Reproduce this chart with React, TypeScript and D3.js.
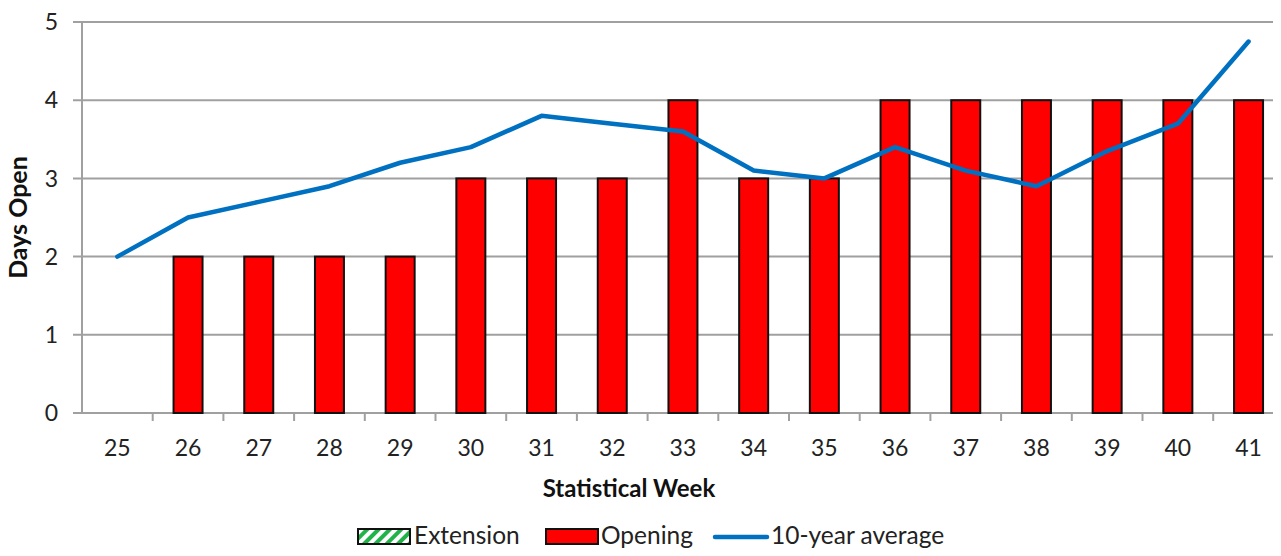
import React, { useEffect, useRef } from 'react';
import * as d3 from 'd3';

const weeks = ['25', '26', '27', '28', '29', '30', '31', '32', '33', '34', '35', '36', '37', '38', '39', '40', '41'];
const opening = [0, 2, 2, 2, 2, 3, 3, 3, 4, 3, 3, 4, 4, 4, 4, 4, 4];
const extension = [0, 0, 0, 0, 0, 0, 0, 0, 0, 0, 0, 0, 0, 0, 0, 0, 0];
const tenYearAvg = [2.0, 2.5, 2.7, 2.9, 3.2, 3.4, 3.8, 3.7, 3.6, 3.1, 3.0, 3.4, 3.1, 2.9, 3.35, 3.7, 4.75];
const yTicks = [0, 1, 2, 3, 4, 5];

const App = () => {
  const ref = useRef<SVGSVGElement>(null);

  useEffect(() => {
    const width = 1281;
    const height = 556;
    const margin = { top: 22, right: 0, bottom: 143, left: 82 };
    const font = 'Lato, "Open Sans", sans-serif';

    const svg = d3.select(ref.current);
    svg.selectAll('*').remove();
    svg.attr('width', width).attr('height', height);

    const defs = svg.append('defs');
    const pat = defs.append('pattern')
      .attr('id', 'hatch')
      .attr('patternUnits', 'userSpaceOnUse')
      .attr('width', 8)
      .attr('height', 8)
      .attr('patternTransform', 'rotate(45)');
    pat.append('rect').attr('width', 8).attr('height', 8).attr('fill', '#fff');
    pat.append('rect').attr('width', 4).attr('height', 8).attr('fill', '#1fb34a');

    const x = d3.scaleBand()
      .domain(weeks)
      .range([margin.left, margin.left + 17 * 70.7])
      .paddingInner(0)
      .paddingOuter(0);

    const y = d3.scaleLinear()
      .domain([0, 5])
      .range([height - margin.bottom, margin.top]);

    // gridlines
    svg.append('g')
      .selectAll('line')
      .data(yTicks)
      .enter()
      .append('line')
      .attr('x1', margin.left - 9)
      .attr('x2', width)
      .attr('y1', d => y(d))
      .attr('y2', d => y(d))
      .attr('stroke', '#a0a0a0')
      .attr('stroke-width', 2);

    // y axis line
    svg.append('line')
      .attr('x1', margin.left)
      .attr('x2', margin.left)
      .attr('y1', y(5))
      .attr('y2', y(0))
      .attr('stroke', '#a0a0a0')
      .attr('stroke-width', 2);

    // y tick labels
    svg.append('g')
      .selectAll('text')
      .data(yTicks)
      .enter()
      .append('text')
      .attr('x', 58)
      .attr('y', d => y(d))
      .attr('dy', '0.36em')
      .attr('text-anchor', 'end')
      .attr('font-family', font)
      .attr('font-size', 23)
      .attr('fill', '#222')
      .text(d => d);

    // x ticks between categories
    const bw = x.bandwidth();
    svg.append('g')
      .selectAll('line')
      .data(weeks.slice(1))
      .enter()
      .append('line')
      .attr('x1', d => x(d)!)
      .attr('x2', d => x(d)!)
      .attr('y1', y(0))
      .attr('y2', y(0) + 8)
      .attr('stroke', '#a0a0a0')
      .attr('stroke-width', 2);

    svg.append('g')
      .selectAll('text')
      .data(weeks)
      .enter()
      .append('text')
      .attr('x', d => x(d)! + bw / 2)
      .attr('y', 456)
      .attr('text-anchor', 'middle')
      .attr('font-family', font)
      .attr('font-size', 23)
      .attr('fill', '#222')
      .text(d => d);

    // bars
    const barW = 29;
    svg.append('g')
      .selectAll('rect')
      .data(opening.map((v, i) => ({ week: weeks[i], v })).filter(d => d.v > 0))
      .enter()
      .append('rect')
      .attr('x', d => x(d.week)! + bw / 2 - barW / 2)
      .attr('y', d => y(d.v))
      .attr('width', barW)
      .attr('height', d => y(0) - y(d.v))
      .attr('fill', '#ff0000')
      .attr('stroke', '#111')
      .attr('stroke-width', 2);

    svg.append('g')
      .selectAll('rect')
      .data(extension.map((v, i) => ({ week: weeks[i], v })).filter(d => d.v > 0))
      .enter()
      .append('rect')
      .attr('x', d => x(d.week)! + bw / 2 - barW / 2)
      .attr('y', d => y(d.v))
      .attr('width', barW)
      .attr('height', d => y(0) - y(d.v))
      .attr('fill', 'url(#hatch)')
      .attr('stroke', '#111')
      .attr('stroke-width', 2);

    // 10-year average line
    const line = d3.line<number>()
      .x((d, i) => x(weeks[i])! + bw / 2)
      .y(d => y(d));

    svg.append('path')
      .datum(tenYearAvg)
      .attr('d', line)
      .attr('fill', 'none')
      .attr('stroke', '#0070c0')
      .attr('stroke-width', 4.5)
      .attr('stroke-linejoin', 'round')
      .attr('stroke-linecap', 'round');

    // axis titles
    svg.append('text')
      .attr('transform', `translate(27,${y(2.5)}) rotate(-90)`)
      .attr('text-anchor', 'middle')
      .attr('font-family', font)
      .attr('font-size', 25)
      .attr('font-weight', 'bold')
      .attr('fill', '#111')
      .text('Days Open');

    svg.append('text')
      .attr('x', (x.range()[0] + x.range()[1]) / 2 - 54)
      .attr('y', 497)
      .attr('text-anchor', 'middle')
      .attr('font-family', font)
      .attr('font-size', 24)
      .attr('font-weight', 'bold')
      .attr('fill', '#111')
      .text('Statistical Week');

    // legend
    const ly = 537;
    const lg = svg.append('g').attr('font-family', font).attr('font-size', 24.5).attr('fill', '#222');
    lg.append('rect').attr('x', 358).attr('y', ly - 8).attr('width', 52).attr('height', 15)
      .attr('fill', 'url(#hatch)').attr('stroke', '#111').attr('stroke-width', 2);
    lg.append('text').attr('x', 414).attr('y', ly).attr('dy', '0.3em').text('Extension');
    lg.append('rect').attr('x', 546).attr('y', ly - 8).attr('width', 52).attr('height', 15)
      .attr('fill', '#ff0000').attr('stroke', '#111').attr('stroke-width', 2);
    lg.append('text').attr('x', 601).attr('y', ly).attr('dy', '0.3em').text('Opening');
    lg.append('line').attr('x1', 715).attr('x2', 767).attr('y1', ly).attr('y2', ly)
      .attr('stroke', '#0070c0').attr('stroke-width', 4.5).attr('stroke-linecap', 'round');
    lg.append('text').attr('x', 771).attr('y', ly).attr('dy', '0.3em').text('10-year average');
  }, []);

  return (
    <div style={{ margin: -8 }}>
      <svg ref={ref} style={{ display: 'block' }}></svg>
    </div>
  );
};

export default App;
